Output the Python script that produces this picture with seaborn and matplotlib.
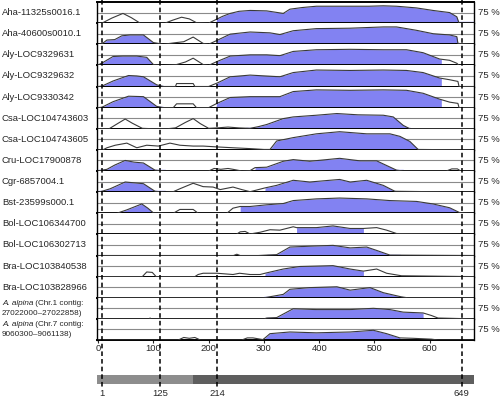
import numpy as np
import pandas as pd
import matplotlib
import matplotlib.pyplot as plt
import matplotlib.transforms as mtransforms
from matplotlib.lines import Line2D
from matplotlib.text import Annotation
import seaborn as sns

matplotlib.use("Agg")

# conservation profiles (position, % identity), values below 50 sit on the baseline
aha1_pos = [0, 7, 25, 45, 60, 76, 121, 135, 151, 165, 178, 200, 214, 225, 239, 255, 275, 305, 335, 347, 370, 395, 425, 456, 490, 516, 540, 576, 606, 636, 649, 653, 681]
aha1_cons = [50, 50, 62, 73, 63, 50, 50, 57, 64, 60, 51, 50, 59, 66, 73, 78, 80, 79, 73, 83, 87, 90, 90, 90, 90, 91, 90, 86, 80, 75, 65, 50, 50]
aha1_cns = [(214, 681)]

aha2_pos = [0, 7, 16, 30, 43, 58, 82, 100, 118, 142, 155, 172, 190, 200, 215, 239, 275, 311, 329, 353, 395, 456, 516, 540, 576, 606, 636, 649, 651, 681]
aha2_cons = [50, 51, 60, 61, 70, 72, 72, 54, 50, 54, 56, 67, 52, 50, 59, 74, 79, 77, 73, 82, 87, 88, 91, 91, 83, 75, 72, 68, 52, 50]
aha2_cns = [(7, 118), (214, 651)]

aly1_pos = [0, 9, 27, 45, 70, 88, 100, 118, 142, 158, 172, 190, 200, 215, 239, 275, 305, 329, 353, 395, 456, 516, 558, 588, 618, 636, 649, 653, 681]
aly1_cons = [51, 57, 71, 72, 72, 69, 52, 50, 52, 58, 67, 52, 50, 59, 72, 75, 75, 73, 83, 87, 88, 87, 87, 80, 65, 62, 55, 50, 50]
aly1_cns = [(0, 118), (214, 621)]

aly2_pos = [0, 7, 27, 55, 70, 82, 106, 118, 140, 142, 172, 175, 200, 215, 239, 275, 329, 353, 395, 456, 516, 558, 588, 618, 636, 651, 653, 681]
aly2_cons = [50, 51, 63, 76, 75, 73, 54, 50, 50, 57, 57, 50, 50, 58, 73, 77, 73, 83, 89, 88, 89, 88, 83, 70, 66, 62, 50, 50]
aly2_cns = [(7, 118), (214, 621)]

aly3_pos = [0, 7, 27, 55, 82, 106, 118, 136, 142, 172, 178, 200, 215, 239, 275, 329, 353, 395, 456, 516, 558, 588, 618, 636, 651, 653, 681]
aly3_cons = [50, 51, 64, 77, 76, 53, 50, 50, 59, 59, 50, 50, 60, 74, 76, 76, 88, 92, 91, 92, 91, 84, 70, 63, 60, 50, 50]
aly3_cns = [(7, 118), (214, 621)]

csa1_pos = [0, 20, 35, 49, 62, 80, 100, 125, 140, 158, 172, 185, 200, 215, 235, 255, 275, 290, 305, 335, 353, 395, 432, 470, 516, 534, 552, 564, 681]
csa1_cons = [50, 50, 62, 73, 63, 51, 50, 50, 52, 65, 74, 62, 51, 52, 54, 52, 51, 55, 60, 74, 78, 82, 86, 83, 82, 78, 58, 50, 50]
csa1_cns = [(268, 564)]

csa2_pos = [0, 10, 16, 31, 52, 70, 88, 109, 130, 148, 172, 190, 215, 244, 275, 300, 311, 323, 353, 395, 437, 486, 528, 546, 564, 579, 681]
csa2_cons = [50, 51, 55, 61, 66, 55, 61, 59, 66, 61, 59, 59, 57, 55, 53, 51, 51, 71, 79, 88, 93, 88, 88, 82, 70, 51, 50]
csa2_cns = [(311, 579)]

cru_pos = [0, 3, 16, 30, 49, 65, 82, 103, 121, 135, 200, 210, 222, 235, 244, 260, 275, 284, 305, 335, 353, 383, 437, 474, 504, 522, 540, 552, 630, 640, 650, 656, 681]
cru_cons = [50, 51, 54, 64, 75, 71, 69, 52, 50, 50, 50, 56, 54, 56, 54, 50, 51, 58, 59, 73, 77, 73, 80, 74, 74, 63, 52, 50, 50, 55, 55, 50, 50]
cru_cns = [(0, 121), (284, 552)]

cgr_pos = [0, 7, 22, 49, 65, 82, 103, 121, 136, 148, 172, 190, 208, 221, 244, 260, 275, 302, 323, 353, 383, 437, 456, 486, 516, 537, 681]
cgr_cons = [50, 52, 58, 74, 72, 70, 52, 50, 51, 58, 71, 63, 62, 56, 62, 56, 51, 60, 66, 78, 74, 80, 74, 78, 66, 52, 50]
cgr_cns = [(0, 121), (302, 537)]

bst_pos = [0, 34, 52, 79, 90, 100, 136, 148, 172, 181, 233, 244, 257, 275, 305, 335, 353, 395, 437, 486, 528, 576, 606, 636, 655, 681]
bst_cons = [50, 50, 58, 72, 62, 51, 50, 59, 59, 50, 50, 62, 66, 66, 70, 73, 80, 84, 86, 84, 80, 78, 72, 63, 51, 50]
bst_cns = [(34, 118), (257, 655)]

bol1_pos = [0, 250, 257, 266, 275, 293, 311, 329, 353, 359, 395, 425, 456, 480, 504, 522, 540, 681]
bol1_cons = [50, 50, 56, 57, 51, 55, 61, 60, 68, 66, 66, 70, 64, 64, 66, 60, 52, 50]
bol1_cns = [(359, 480)]

bol2_pos = [0, 245, 251, 257, 290, 305, 323, 347, 383, 425, 456, 486, 504, 528, 681]
bol2_cons = [50, 50, 53, 50, 50, 51, 52, 70, 72, 74, 68, 70, 62, 51, 50]
bol2_cns = [(305, 546)]

bra1_pos = [0, 80, 88, 98, 105, 175, 181, 190, 215, 244, 256, 275, 293, 302, 335, 365, 425, 456, 480, 504, 522, 549, 681]
bra1_cons = [50, 50, 61, 60, 50, 50, 55, 58, 58, 55, 58, 55, 55, 58, 68, 74, 76, 68, 63, 68, 58, 52, 50]
bra1_cns = [(302, 480)]

bra2_pos = [0, 300, 305, 335, 347, 383, 432, 456, 492, 516, 549, 560, 681]
bra2_cons = [50, 50, 51, 58, 70, 74, 76, 68, 74, 62, 52, 50, 50]
bra2_cns = [(300, 549)]

alp1_pos = [0, 92, 94, 96, 300, 305, 323, 353, 395, 456, 498, 528, 552, 588, 603, 615, 681]
alp1_cons = [50, 50, 52, 50, 50, 52, 53, 74, 72, 72, 75, 72, 66, 64, 58, 52, 50]
alp1_cns = [(305, 588)]

alp2_pos = [0, 145, 155, 165, 175, 185, 260, 270, 280, 298, 302, 311, 347, 395, 456, 498, 522, 546, 570, 603, 615, 681]
alp2_cons = [50, 50, 56, 54, 56, 50, 50, 55, 55, 51, 55, 65, 69, 67, 69, 73, 65, 55, 54, 52, 50, 50]
alp2_cns = [(302, 546)]

row_names = [
    "Aha-11325s0016.1", "Aha-40600s0010.1", "Aly-LOC9329631", "Aly-LOC9329632",
    "Aly-LOC9330342", "Csa-LOC104743603", "Csa-LOC104743605", "Cru-LOC17900878",
    "Cgr-6857004.1", "Bst-23599s000.1", "Bol-LOC106344700", "Bol-LOC106302713",
    "Bra-LOC103840538", "Bra-LOC103828966",
    ("A. alpina", " (Chr.1 contig:", "27022000–27022858)"),
    ("A. alpina", " (Chr.7 contig:", "9060300–9061138)"),
]

x_ticks = [0, 100, 200, 300, 400, 500, 600]
exon_marks = [7, 112, 215, 658]
exon_labels = ["1", "125", "214", "649"]
domain_starts = [-4, 172]
domain_ends = [172, 681]
domain_colors = ["#8d8d8d", "#5e5e5e"]

rows = [
    (aha1_pos, aha1_cons, aha1_cns), (aha2_pos, aha2_cons, aha2_cns),
    (aly1_pos, aly1_cons, aly1_cns), (aly2_pos, aly2_cons, aly2_cns),
    (aly3_pos, aly3_cons, aly3_cns), (csa1_pos, csa1_cons, csa1_cns),
    (csa2_pos, csa2_cons, csa2_cns), (cru_pos, cru_cons, cru_cns),
    (cgr_pos, cgr_cons, cgr_cns), (bst_pos, bst_cons, bst_cns),
    (bol1_pos, bol1_cons, bol1_cns), (bol2_pos, bol2_cons, bol2_cns),
    (bra1_pos, bra1_cons, bra1_cns), (bra2_pos, bra2_cons, bra2_cns),
    (alp1_pos, alp1_cons, alp1_cns), (alp2_pos, alp2_cons, alp2_cns),
]

df = pd.concat(
    [pd.DataFrame({"row": i, "pos": p, "cons": c}) for i, (p, c, _) in enumerate(rows)]
)

sns.set_style("white")
plt.rcParams["font.family"] = ["Liberation Sans", "DejaVu Sans"]

BLUE = "#8282f2"
FS = 6.8
FS_SMALL = 5.9
XLIM = (-2, 681)

fig = plt.figure(figsize=(5.0, 3.98), dpi=100)
left, right = 97 / 500, 474.5 / 500
top, bottom = 1 - 2 / 398, 1 - 340 / 398
gs = fig.add_gridspec(len(rows), 1, left=left, right=right, top=top, bottom=bottom, hspace=0)

axes = []
for i, (pos, cons, cns) in enumerate(rows):
    ax = fig.add_subplot(gs[i, 0])
    axes.append(ax)
    ax.axhline(75, color="#8a8a8a", lw=0.8, zorder=0.5)
    for a, b in cns:
        xs = np.linspace(a, b, 400)
        ax.fill_between(xs, 50, np.interp(xs, pos, cons), color=BLUE, lw=0, zorder=1)
        ax.plot([a, b], [51.5, 51.5], color=BLUE, lw=1.0, zorder=1)
    sns.lineplot(
        data=df[df["row"] == i], x="pos", y="cons", ax=ax, color="#3a3a3a",
        lw=0.8, estimator=None, sort=False, zorder=3,
    )
    ax.set_xlim(*XLIM)
    ax.set_ylim(50, 100)
    ax.set_xlabel("")
    ax.set_ylabel("")
    ax.set_yticks([])
    for s in ["left", "right"]:
        ax.spines[s].set_color("black")
        ax.spines[s].set_linewidth(1.0)
    ax.spines["bottom"].set_color("black")
    ax.spines["bottom"].set_linewidth(1.4)
    ax.spines["top"].set_visible(i == 0)
    ax.spines["top"].set_color("black")
    ax.spines["top"].set_linewidth(1.4)

    bb = ax.get_position()
    yc = (bb.y0 + bb.y1) / 2
    name = row_names[i]
    if isinstance(name, tuple):
        dy = 5.2 / 398
        t1 = fig.text(0.004, yc + dy, name[0], ha="left", va="center",
                      fontsize=FS_SMALL, style="italic")
        fig.text(0.004, yc - dy, name[2], ha="left", va="center", fontsize=FS_SMALL)
        fig.add_artist(
            Annotation(name[1], xy=(1, 0.5), xycoords=t1, ha="left", va="center",
                       fontsize=FS_SMALL)
        )
    else:
        fig.text(0.004, yc, name, ha="left", va="center", fontsize=FS)
    fig.text(478 / 500, yc, "75 %", ha="left", va="center", fontsize=FS)

    if i < len(rows) - 1:
        ax.set_xticks([])
    else:
        ax.set_xticks(x_ticks)
        ax.set_xticklabels([str(t) for t in x_ticks], fontsize=FS)
        ax.tick_params(axis="x", length=2, width=0.8, pad=1, direction="out", bottom=True)

# protein bar
bar_ax = fig.add_axes([left, 1 - 384 / 398, right - left, 9 / 398])
bar_ax.barh(
    [0, 0], [e - s for s, e in zip(domain_starts, domain_ends)], left=domain_starts,
    height=1, color=domain_colors, lw=0,
)
bar_ax.set_xlim(*XLIM)
bar_ax.set_ylim(-0.5, 0.5)
bar_ax.axis("off")

# exon boundary lines running through everything
trans = mtransforms.blended_transform_factory(axes[-1].transData, fig.transFigure)
for x, lab in zip(exon_marks, exon_labels):
    fig.add_artist(
        Line2D([x, x], [1.0, 1 - 387 / 398], transform=trans, color="black",
               lw=1.1, dashes=(3, 2), zorder=10)
    )
    fig.text(x, 1 - 393 / 398, lab, transform=trans, ha="center", va="center", fontsize=FS)

fig.savefig("out.png", dpi=100)
